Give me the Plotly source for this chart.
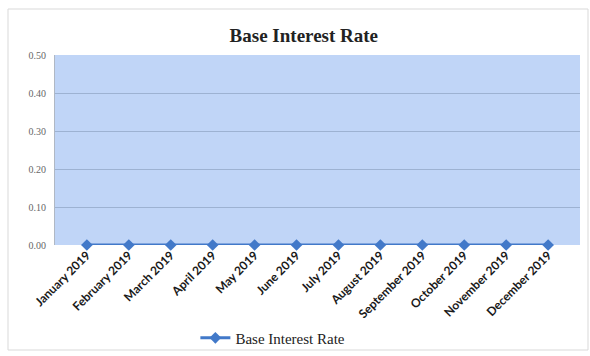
import plotly.graph_objects as go

months = ["January 2019", "February 2019", "March 2019", "April 2019", "May 2019",
          "June 2019", "July 2019", "August 2019", "September 2019", "October 2019",
          "November 2019", "December 2019"]
rates = [0.00] * 12
y_ticks = [0.0, 0.1, 0.2, 0.3, 0.4, 0.5]
y_labels = ["0.00", "0.10", "0.20", "0.30", "0.40", "0.50"]

W, H = 590, 356
L, R, T, B = 55, 10, 55, 111

def px_to_paper(x, y):
    return (x - L) / (W - L - R), (H - B - y) / (H - T - B)

fig = go.Figure()
fig.add_trace(go.Scatter(
    x=months, y=rates, mode="lines+markers", name="Base Interest Rate",
    line=dict(color="#4279c9", width=3),
    marker=dict(symbol="diamond", size=9, color="#4279c9"),
    cliponaxis=False,
))

x0, y0 = px_to_paper(8, 350)
x1, y1 = px_to_paper(588, 9)
fig.add_shape(type="rect", xref="paper", yref="paper", x0=x0, y0=y0, x1=x1, y1=y1,
              line=dict(color="#d9d9d9", width=1), fillcolor="rgba(0,0,0,0)", layer="below")

fig.update_layout(
    width=W, height=H,
    margin=dict(l=L, r=R, t=T, b=B, autoexpand=False),
    paper_bgcolor="white",
    plot_bgcolor="#c0d5f7",
    title=dict(text="<b>Base Interest Rate</b>", x=0.515, xanchor="center", y=0.9, yanchor="middle",
               font=dict(family="Liberation Serif", size=19, color="#222222")),
    showlegend=True,
    legend=dict(orientation="h", x=0.415, xanchor="center", y=-0.49, yanchor="middle",
                font=dict(family="Liberation Serif", size=15, color="#222222"),
                bgcolor="rgba(0,0,0,0)"),
    xaxis=dict(
        tickangle=-45, showgrid=False, zeroline=False, automargin=False,
        tickfont=dict(family="Lato", size=12, color="#1a1a1a", weight="bold"),
        showline=False, ticks="",
    ),
    yaxis=dict(
        range=[0, 0.5], tickvals=y_ticks, ticktext=y_labels, automargin=False,
        showgrid=True, gridcolor="#9db2d2", gridwidth=1,
        zeroline=False, showline=True, linecolor="#b0b8c4",
        tickfont=dict(family="Liberation Serif", size=10, color="#666666"),
        ticks="", ticklabelstandoff=6,
    ),
)

fig.write_html("out.html")
